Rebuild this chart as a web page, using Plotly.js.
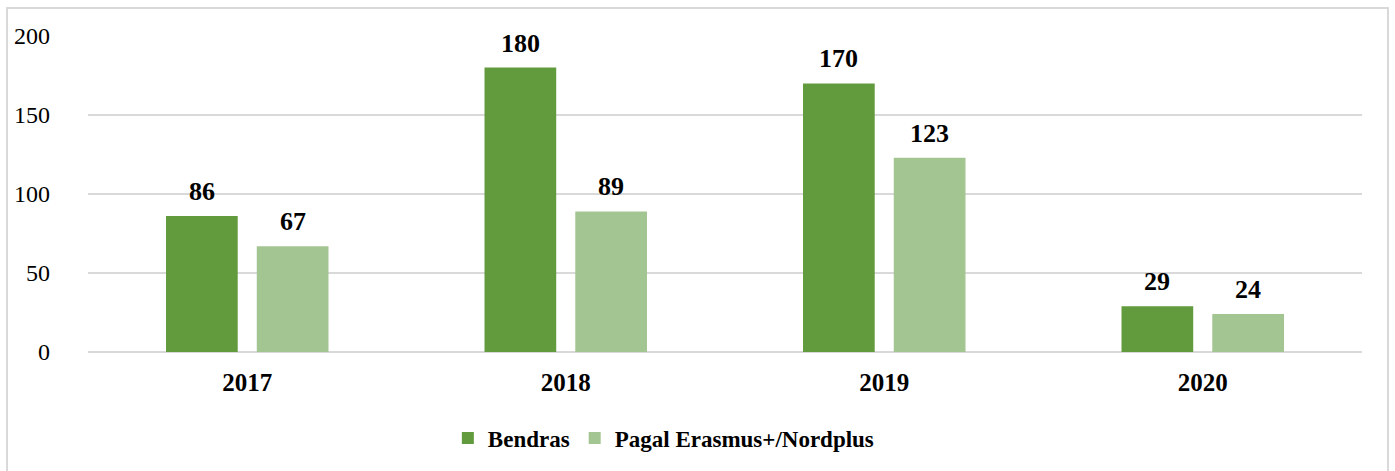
<!DOCTYPE html>
<html>
<head>
<meta charset="utf-8">
<script src="https://cdn.plot.ly/plotly-3.0.1.min.js"></script>
<style>
  body { margin: 0; background: #fff; }
  #frame { position: absolute; left: 6px; top: 7px; width: 1383px; height: 480px; border: 2px solid #d9d9d9; box-sizing: border-box; }
  #chart { position: absolute; left: 0; top: 0; width: 1395px; height: 471px; }
</style>
</head>
<body>
<div id="frame"></div>
<div id="chart"></div>
<script>
const years = ['2017', '2018', '2019', '2020'];
const bendras = [86, 180, 170, 29];
const pagal = [67, 89, 123, 24];
const seriesNames = ['Bendras', 'Pagal Erasmus+/Nordplus'];
const colors = ['#629B3E', '#A3C592'];

const serif = '"Liberation Serif", "Times New Roman", serif';

// value labels sit a bit above each bar, like the original
// (x given as category index so the category axis doesn't read "2017" as a number)
function labels(values, shift) {
  return values.map((v, i) => ({
    x: i, y: v, xref: 'x', yref: 'y',
    text: '<b>' + v + '</b>',
    showarrow: false, xshift: shift, yanchor: 'bottom', yshift: 8,
    font: { family: serif, size: 26, color: '#000' }
  }));
}

const traces = [
  { x: years, y: bendras, name: seriesNames[0], type: 'bar', marker: { color: colors[0] } },
  { x: years, y: pagal, name: seriesNames[1], type: 'bar', marker: { color: colors[1] } }
];

const layout = {
  width: 1395, height: 471,
  margin: { l: 88, r: 33, t: 36, b: 119 },
  paper_bgcolor: 'rgba(0,0,0,0)',
  plot_bgcolor: 'rgba(0,0,0,0)',
  barmode: 'group',
  bargap: 0.43,
  bargroupgap: 0.21,
  font: { family: serif, color: '#000' },
  xaxis: {
    type: 'category',
    range: [-0.5, years.length - 0.5],
    tickfont: { family: serif, size: 25, weight: 'bold' },
    ticklabelstandoff: 13,
    showline: false, zeroline: false, showgrid: false
  },
  yaxis: {
    range: [0, 200], dtick: 50,
    tickfont: { family: serif, size: 24 },
    ticklabelstandoff: 37,
    gridcolor: '#d9d9d9', gridwidth: 2,
    zeroline: true, zerolinecolor: '#d9d9d9', zerolinewidth: 2
  },
  legend: {
    orientation: 'h', x: 0.452, xanchor: 'center', y: -0.272, yanchor: 'middle',
    font: { family: serif, size: 23, weight: 'bold' },
    itemwidth: 30, tracegroupgap: 0
  },
  annotations: labels(bendras, -45.5).concat(labels(pagal, 45.5))
};

Plotly.newPlot('chart', traces, layout, { displayModeBar: false, staticPlot: true });
</script>
</body>
</html>
